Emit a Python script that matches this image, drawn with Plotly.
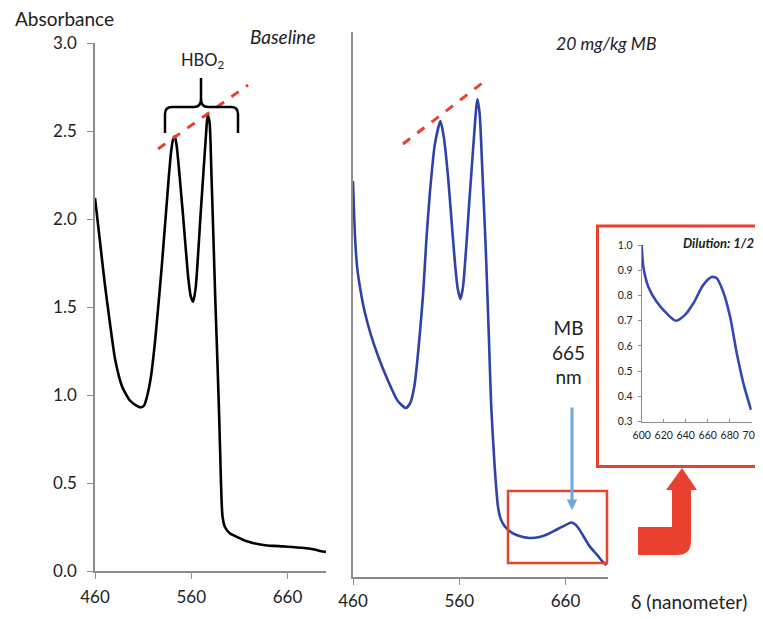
import plotly.graph_objects as go

# ---------------- data ----------------
base_nm = [460, 465, 470, 475, 481, 488, 496, 503, 508, 511, 514, 518, 522.5, 529.5, 536.4, 539, 541, 543, 545,
           551, 557, 559.5, 562, 564.6, 570, 575.6, 577, 579, 581, 583, 585, 587, 589, 590.5, 591.5,
           592.5, 595, 600, 609, 617, 625, 635, 645, 655, 665, 675, 682, 688, 695, 700]
base_abs = [2.12, 1.88, 1.64, 1.43, 1.20, 1.05, 0.97, 0.94, 0.93, 0.94, 0.99, 1.10, 1.31, 1.74, 2.22, 2.38, 2.45, 2.47, 2.41,
            2.05, 1.66, 1.56, 1.53, 1.61, 2.05, 2.50, 2.59, 2.55, 2.25, 1.90, 1.54, 1.22, 0.88, 0.58, 0.40,
            0.31, 0.25, 0.215, 0.19, 0.17, 0.158, 0.148, 0.143, 0.14, 0.136, 0.132, 0.128, 0.122, 0.112, 0.108]

mb_nm = [460, 462, 464, 467, 471, 477, 484, 493, 502, 509.8, 514, 518, 522, 526, 529, 532.3,
         537, 542.3, 545.5, 549.5, 552.5, 555.8, 558.5, 561.1, 563.6, 570, 576.1, 577.1, 579.2,
         582, 585, 588, 590, 593.3, 596.4, 599, 602.7, 610.5, 619.9, 626.2, 635.6, 643, 651.3,
         658, 665.4, 669, 673.2, 682.6, 690, 695, 698.5]
mb_abs = [2.18, 1.86, 1.70, 1.58, 1.46, 1.33, 1.21, 1.08, 0.97, 0.93, 0.96, 1.06, 1.28, 1.56, 1.85, 2.11,
          2.38, 2.51, 2.42, 2.20, 1.98, 1.74, 1.59, 1.53, 1.60, 2.11, 2.59, 2.63, 2.55,
          2.20, 1.80, 1.30, 0.95, 0.61, 0.39, 0.32, 0.28, 0.24, 0.22, 0.215, 0.22, 0.235, 0.26,
          0.28, 0.30, 0.29, 0.26, 0.17, 0.12, 0.084, 0.066]

dil_nm = [600, 601.5, 606, 613.6, 622.7, 631.2, 639.4, 647, 656, 663.6, 668, 674, 680.3, 686.4, 692.4, 699.4]
dil_abs = [1.0, 0.914, 0.835, 0.775, 0.729, 0.70, 0.723, 0.769, 0.842, 0.873, 0.869, 0.816, 0.717, 0.572, 0.453, 0.347]

main_ticks = [460, 560, 660]
abs_ticks = [0.0, 0.5, 1.0, 1.5, 2.0, 2.5, 3.0]
inset_xticks = [600, 620, 640, 660, 680, 700]
inset_yticks = [0.3, 0.4, 0.5, 0.6, 0.7, 0.8, 0.9, 1.0]

# ---------------- layout helpers ----------------
OFF = 8  # page body margin
W, H = 763 - OFF, 619 - OFF
def fx(p): return (p - OFF) / W
def fy(p): return 1 - (p - OFF) / H

FONT = "Lato, Open Sans, sans-serif"
AXC = "#8c8c8c"
RED = "#e8412f"

fig = go.Figure()
fig.add_trace(go.Scatter(x=base_nm, y=base_abs, mode="lines", line=dict(color="black", width=2.6, shape="spline", smoothing=0.6),
                         xaxis="x", yaxis="y", hoverinfo="skip"))
fig.add_trace(go.Scatter(x=mb_nm, y=mb_abs, mode="lines", line=dict(color="#2f43a6", width=2.6, shape="spline", smoothing=0.6),
                         xaxis="x2", yaxis="y2", hoverinfo="skip"))
fig.add_trace(go.Scatter(x=dil_nm, y=dil_abs, mode="lines", line=dict(color="#3548b2", width=2.6, shape="spline", smoothing=0.8),
                         xaxis="x3", yaxis="y3", hoverinfo="skip"))

tickfont = dict(family=FONT, size=17, color="#222")
inset_font = dict(family=FONT, size=10.5, color="#222")
fig.update_layout(
    width=W, height=H, margin=dict(l=0, r=0, t=0, b=0), showlegend=False,
    template="none", paper_bgcolor="white", plot_bgcolor="rgba(0,0,0,0)",
    xaxis=dict(domain=[fx(95), fx(326)], range=[460, 700], tickvals=main_ticks, ticks="outside", ticklen=6,
               tickcolor=AXC, showline=True, linecolor=AXC, linewidth=1.5, showgrid=False, zeroline=False,
               tickfont=tickfont, anchor="y", ticklabelstandoff=4),
    yaxis=dict(domain=[fy(571), fy(43)], range=[0, 3], tickvals=abs_ticks, tickformat=".1f", ticks="outside",
               ticklen=6, tickcolor=AXC, showline=True, linecolor=AXC, linewidth=1.5, showgrid=False,
               zeroline=False, tickfont=tickfont, anchor="x", ticklabelstandoff=7),
    xaxis2=dict(domain=[fx(353), fx(608)], range=[460, 700], tickvals=main_ticks, ticks="outside", ticklen=6,
                tickcolor=AXC, showline=True, linecolor=AXC, linewidth=1.5, showgrid=False, zeroline=False,
                tickfont=tickfont, anchor="y2", ticklabelstandoff=2),
    yaxis2=dict(domain=[fy(577), fy(32)], range=[0, 3], showticklabels=False, ticks="", showline=True,
                linecolor=AXC, linewidth=1.5, showgrid=False, zeroline=False, anchor="x2"),
    xaxis3=dict(domain=[fx(641.7), fx(751.7)], range=[600, 700], tickvals=inset_xticks, ticks="inside", ticklen=3,
                tickcolor=AXC, showline=True, linecolor=AXC, linewidth=1.2, showgrid=False, zeroline=False,
                tickfont=inset_font, anchor="y3", ticklabelstandoff=4),
    yaxis3=dict(domain=[fy(421.7), fy(245)], range=[0.3, 1.0], tickvals=inset_yticks, tickformat=".1f",
                ticks="outside", ticklen=3, tickcolor=AXC, showline=True, linecolor=AXC, linewidth=1.2,
                showgrid=False, zeroline=False, tickfont=inset_font, anchor="x3", ticklabelstandoff=3),
)

shapes = []
# dashed red lines over the peaks
for (x0, y0, x1, y1) in [(158, 149, 248, 85), (403, 144, 485, 81)]:
    shapes.append(dict(type="line", xref="paper", yref="paper", x0=fx(x0), y0=fy(y0), x1=fx(x1), y1=fy(y1),
                       line=dict(color=RED, width=3, dash="dash")))
# curly brace
brace = (f"M {fx(165)},{fy(133)} L {fx(165)},{fy(114)} Q {fx(165)},{fy(107)} {fx(172)},{fy(107)} "
         f"L {fx(194)},{fy(107)} Q {fx(201)},{fy(107)} {fx(201)},{fy(99)} L {fx(201)},{fy(78)} "
         f"M {fx(201)},{fy(99)} Q {fx(201)},{fy(107)} {fx(208)},{fy(107)} L {fx(231)},{fy(107)} "
         f"Q {fx(238)},{fy(107)} {fx(238)},{fy(114)} L {fx(238)},{fy(133)}")
shapes.append(dict(type="path", xref="paper", yref="paper", path=brace, line=dict(color="black", width=2.5)))
# small red box on right panel
shapes.append(dict(type="rect", xref="paper", yref="paper", x0=fx(508), y0=fy(563), x1=fx(607), y1=fy(491),
                   line=dict(color=RED, width=2.5)))
# inset frame
shapes.append(dict(type="rect", xref="paper", yref="paper", x0=fx(597.5), y0=fy(466.5), x1=fx(780), y1=fy(226),
                   line=dict(color=RED, width=3), layer="below"))
# big red L arrow
arrow = (f"M {fx(638)},{fy(527)} L {fx(672)},{fy(527)} L {fx(672)},{fy(490)} L {fx(666)},{fy(490)} "
         f"L {fx(682)},{fy(468)} L {fx(697)},{fy(490)} L {fx(691)},{fy(490)} L {fx(691)},{fy(541)} "
         f"Q {fx(691)},{fy(555)} {fx(677)},{fy(555)} L {fx(638)},{fy(555)} Z")
shapes.append(dict(type="path", xref="paper", yref="paper", path=arrow, fillcolor=RED, line=dict(width=0)))
fig.update_layout(shapes=shapes)

def txt(x, y, s, size, italic=False, xanchor="center", color="#222"):
    return dict(x=fx(x), y=fy(y), xref="paper", yref="paper", text=(f"<i>{s}</i>" if italic else s),
                showarrow=False, xanchor=xanchor, yanchor="middle",
                font=dict(family=FONT, size=size, color=color))

ann = [
    txt(64, 18, "Absorbance", 19),
    txt(283, 36, "Baseline", 19, italic=True),
    txt(202, 60, "HBO<sub>2</sub>", 16.5),
    txt(606, 43, "20 mg/kg MB", 17.5, italic=True),
    txt(568, 352, "MB<br>665<br>nm", 19),
    txt(689, 601, "δ (nanometer)", 19),
    txt(681, 243, "<b>Dilution: 1/2</b>", 13, italic=True, xanchor="left"),
    dict(x=fx(572), y=fy(510), xref="paper", yref="paper", ax=0, ay=-104, text="", showarrow=True,
         arrowhead=2, arrowsize=0.7, arrowwidth=3, arrowcolor="#6fa8dc"),
]
fig.update_layout(annotations=ann)

fig.write_html("out.html")
